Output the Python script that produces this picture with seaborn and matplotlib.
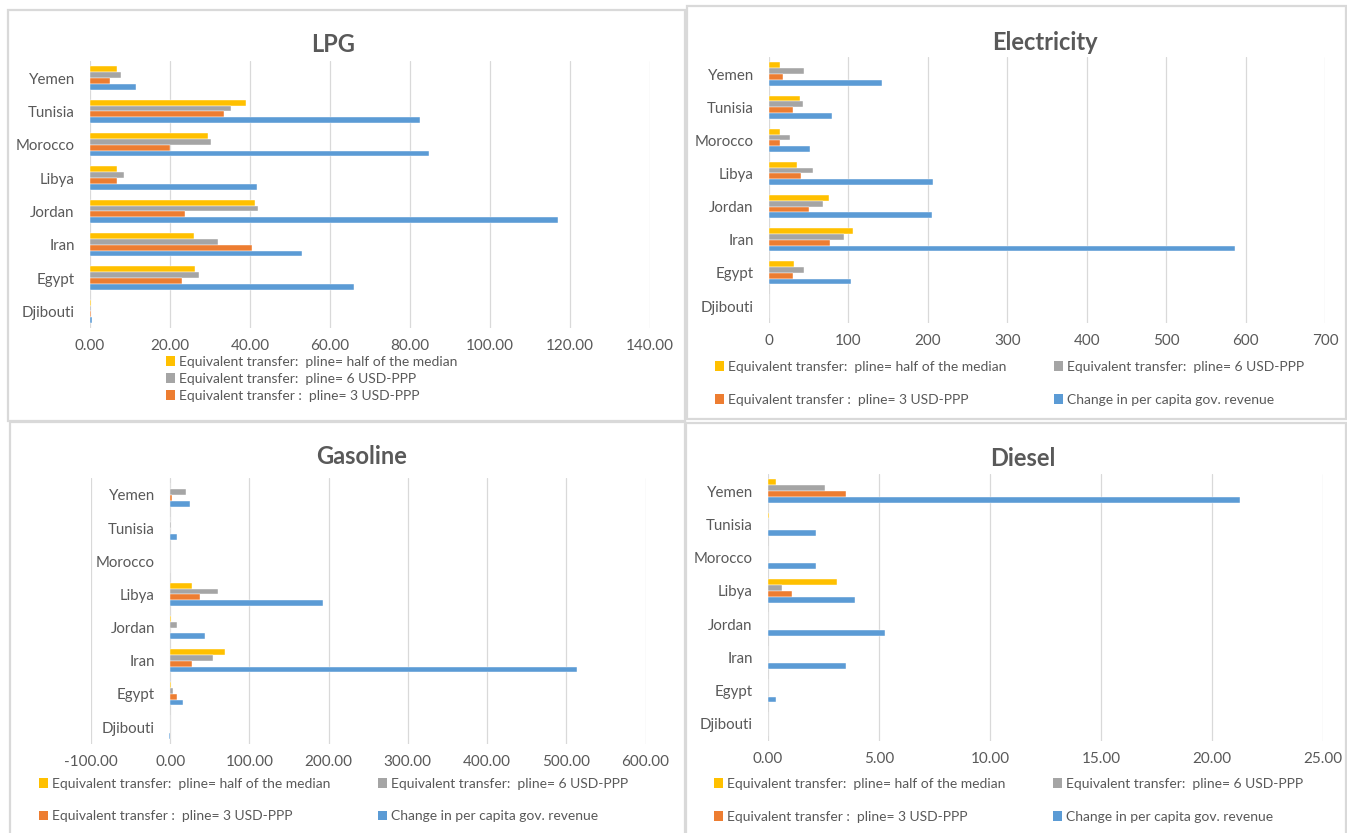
import numpy as np
import pandas as pd
import matplotlib
matplotlib.use("Agg")
import matplotlib.pyplot as plt
from matplotlib.patches import Rectangle, Patch
from matplotlib.ticker import FormatStrFormatter
import seaborn as sns

# ---------------- data ----------------
countries = ['Yemen', 'Tunisia', 'Morocco', 'Libya', 'Jordan', 'Iran', 'Egypt', 'Djibouti']

series_half = "Equivalent transfer:  pline= half of the median"
series_6 = "Equivalent transfer:  pline= 6 USD-PPP"
series_3 = "Equivalent transfer :  pline= 3 USD-PPP"
series_rev = "Change in per capita gov. revenue"
series_names = [series_half, series_6, series_3, series_rev]

lpg_half = [6.8, 39.0, 29.6, 6.8, 41.3, 26.1, 26.3, 0.3]
lpg_6 = [7.7, 35.3, 30.2, 8.4, 41.9, 31.9, 27.2, 0.3]
lpg_3 = [5.0, 33.4, 20.1, 6.8, 23.7, 40.4, 23.0, 0.3]
lpg_rev = [11.6, 82.4, 84.8, 41.7, 116.9, 53.0, 66.1, 0.4]

elec_half = [13.4, 39.6, 13.4, 35.8, 75.4, 105.9, 32.1, 0.0]
elec_6 = [43.9, 42.8, 26.7, 55.1, 68.4, 94.1, 43.9, 0.0]
elec_3 = [18.2, 30.5, 13.4, 40.1, 50.8, 77.0, 30.5, 0.0]
elec_rev = [142.8, 79.1, 51.3, 205.9, 204.8, 586.6, 103.7, 0.0]

gas_half = [0.0, 0.0, 0.0, 27.8, 1.5, 68.9, 0.8, 0.0]
gas_6 = [20.0, 1.3, 0.0, 60.6, 8.9, 54.4, 3.5, 0.0]
gas_3 = [2.8, 0.0, 0.0, 37.2, 0.0, 27.8, 8.9, 0.0]
gas_rev = [25.0, 8.9, 0.0, 192.8, 43.3, 513.9, 16.7, -2.0]

diesel_half = [0.38, 0.05, 0.0, 3.12, 0.0, 0.0, 0.0, 0.0]
diesel_6 = [2.59, 0.0, 0.0, 0.61, 0.0, 0.0, 0.0, 0.0]
diesel_3 = [3.50, 0.0, 0.0, 1.06, 0.0, 0.0, 0.0, 0.0]
diesel_rev = [21.25, 2.17, 2.17, 3.92, 5.25, 3.50, 0.38, 0.0]

lpg_ticks = [0, 20, 40, 60, 80, 100, 120, 140]
elec_ticks = [0, 100, 200, 300, 400, 500, 600, 700]
gas_ticks = [-100, 0, 100, 200, 300, 400, 500, 600]
diesel_ticks = [0, 5, 10, 15, 20, 25]

colors = {series_half: '#FFC000', series_6: '#A5A5A5', series_3: '#ED7D31', series_rev: '#5B9BD5'}

# ---------------- style ----------------
sns.set_theme(style="white")
plt.rcParams['font.family'] = ['Lato', 'DejaVu Sans']
TXT = '#595959'
GRID = '#D9D9D9'
LEG_FS = 10.0

W, H = 1347, 833
fig = plt.figure(figsize=(W / 100, H / 100), dpi=100)
fig.patch.set_facecolor('white')


def px_axes(x0, y0, x1, y1):
    return fig.add_axes([x0 / W, 1 - y1 / H, (x1 - x0) / W, (y1 - y0) / H])


def long_df(vals):
    rows = []
    for name, v in zip(series_names, vals):
        for c, x in zip(countries, v):
            rows.append({'country': c, 'series': name, 'value': x})
    return pd.DataFrame(rows)


def panel(rect, vals, title, title_xy, ticks, fmt, legend_spec, zero_axis=False):
    ax = px_axes(*rect)
    df = long_df(vals)
    sns.barplot(data=df, y='country', x='value', hue='series', order=countries,
                hue_order=series_names, palette=colors, orient='h', width=0.7,
                saturation=1, legend=False, ax=ax, errorbar=None,
                edgecolor='white', linewidth=0.3)
    ax.set_xlim(ticks[0], ticks[-1])
    ax.set_ylim(len(countries) - 0.5, -0.5)
    ax.set_xticks(ticks)
    ax.xaxis.set_major_formatter(FormatStrFormatter(fmt))
    ax.set_xlabel('')
    ax.set_ylabel('')
    for s in ax.spines.values():
        s.set_visible(False)
    if zero_axis:
        ax.spines['left'].set_position(('data', 0))
    ax.grid(axis='x', color=GRID, linewidth=0.9)
    ax.grid(axis='y', visible=False)
    ax.set_axisbelow(True)
    ax.tick_params(axis='x', length=0, pad=8, labelsize=11, labelcolor=TXT)
    ax.tick_params(axis='y', length=0, pad=11, labelsize=10.8, labelcolor=TXT)
    ax.set_facecolor('none')
    fig.text(title_xy[0] / W, 1 - title_xy[1] / H, title, ha='center', va='center',
             fontsize=17, fontweight='bold', color=TXT)
    # legend
    x_left, y_top, ncol, entries, rowgap, colgap = legend_spec
    handles = [Patch(facecolor=colors[e], edgecolor='none') for e in entries]
    ax.legend(handles, entries, loc='upper left',
              bbox_to_anchor=(x_left / W, 1 - y_top / H), bbox_transform=fig.transFigure,
              ncol=ncol, frameon=False, fontsize=LEG_FS, handlelength=0.65, handleheight=0.65,
              handletextpad=0.3, borderpad=0, borderaxespad=0, labelspacing=rowgap,
              columnspacing=colgap, labelcolor=TXT)
    return ax


two_col = [series_half, series_3, series_6, series_rev]

panel((90, 61.4, 650, 328), [lpg_half, lpg_6, lpg_3, lpg_rev], 'LPG', (333, 45),
      lpg_ticks, '%.2f', (166, 356, 1, [series_half, series_6, series_3], 0.36, 1.0))
panel((769, 57.5, 1325, 322.6), [elec_half, elec_6, elec_3, elec_rev], 'Electricity', (1045, 42),
      elec_ticks, '%d', (715, 361, 2, two_col, 1.5, 3.4))
panel((91, 478.4, 645.5, 743.6), [gas_half, gas_6, gas_3, gas_rev], 'Gasoline', (362, 457),
      gas_ticks, '%.2f', (39, 778, 2, two_col, 1.45, 3.4), zero_axis=True)
panel((768, 474.4, 1323, 740.6), [diesel_half, diesel_6, diesel_3, diesel_rev], 'Diesel', (1023, 458),
      diesel_ticks, '%.2f', (714, 778, 2, two_col, 1.5, 3.4))

# panel borders
for (x0, y0, x1, y1) in [(8, 10, 685, 421), (687, 6, 1346, 419), (10, 422, 685, 845), (686, 423, 1346, 845)]:
    fig.patches.append(Rectangle((x0 / W, 1 - y1 / H), (x1 - x0) / W, (y1 - y0) / H,
                                 transform=fig.transFigure, fill=False, edgecolor='#D9D9D9',
                                 linewidth=1.6, zorder=0))

fig.savefig('out.png', dpi=100, facecolor='white')
